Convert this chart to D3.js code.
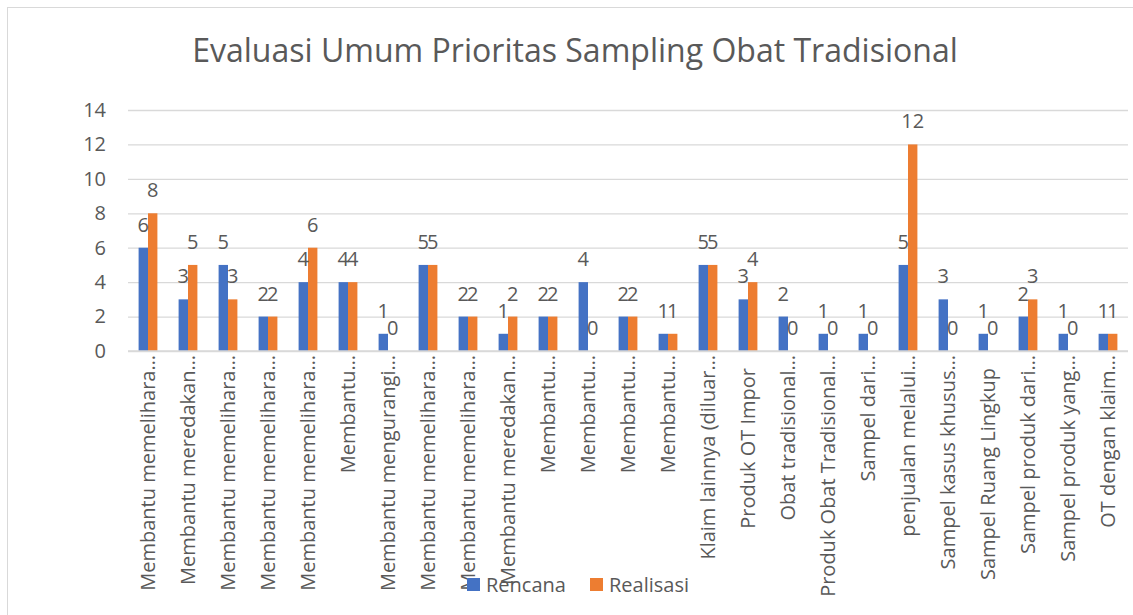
<!DOCTYPE html>
<html>
<head>
<meta charset="utf-8">
<script src="https://cdn.jsdelivr.net/npm/d3@7"></script>
<style>
  body { margin: 0; background: #fff; }
  svg text { font-family: "Open Sans", Lato, sans-serif; fill: #595959; }
</style>
</head>
<body>
<svg id="chart" width="1133" height="615"></svg>
<script>
// categories as shown (already cut off in the original)
var categories = [
  "Membantu memelihara…", "Membantu meredakan…", "Membantu memelihara…", "Membantu memelihara…",
  "Membantu memelihara…", "Membantu…", "Membantu mengurangi…", "Membantu memelihara…",
  "Membantu memelihara…", "Membantu meredakan…", "Membantu…", "Membantu…",
  "Membantu…", "Membantu…", "Klaim lainnya (diluar…", "Produk OT Impor",
  "Obat tradisional…", "Produk Obat Tradisional…", "Sampel dari…", "penjualan melalui…",
  "Sampel kasus khusus…", "Sampel Ruang Lingkup", "Sampel produk dari…", "Sampel produk yang…",
  "OT dengan klaim…"
]
var rencana   = [6, 3, 5, 2, 4, 4, 1, 5, 2, 1, 2, 4, 2, 1, 5, 3, 2, 1, 1, 5, 3, 1, 2, 1, 1]
var realisasi = [8, 5, 3, 2, 6, 4, 0, 5, 2, 2, 2, 0, 2, 1, 5, 4, 0, 0, 0, 12, 0, 0, 3, 0, 1]
var seriesNames = ["Rencana", "Realisasi"]
var yTicks = [0, 2, 4, 6, 8, 10, 12, 14]
var colors = ["#4472C4", "#ED7D31"]

var dims = { left: 128, right: 1128, top: 110, bottom: 351 }

var svg = d3.select("#chart")

// outer frame
svg.append("rect")
    .attr("x", 7.5).attr("y", 7.5)
    .attr("width", 1140).attr("height", 620)
    .attr("fill", "none").attr("stroke", "#d9d9d9")

var title = svg.append("text")
    .attr("x", 575).attr("y", 62)
    .attr("text-anchor", "middle")
    .style("font-size", "31px")
    .text("Evaluasi Umum Prioritas Sampling Obat Tradisional")
// fit title to the width seen in the original
var tw = title.node().getComputedTextLength()
title.style("font-size", (31 * 766 / tw) + "px")

var xScale = d3.scaleBand()
    .domain(d3.range(categories.length))
    .range([dims.left, dims.right])
    .paddingInner(0.53)
    .paddingOuter(0.265)

var xSub = d3.scaleBand()
    .domain(seriesNames)
    .range([0, xScale.bandwidth()])

var yScale = d3.scaleLinear()
    .domain([0, 14])
    .range([dims.bottom, dims.top])

// gridlines + y labels
var yAxis = svg.append("g")
    .attr("transform", "translate(" + dims.left + ",0)")
    .call(d3.axisLeft(yScale).tickValues(yTicks).tickSize(-(dims.right - dims.left)).tickPadding(22))
yAxis.select(".domain").remove()
yAxis.selectAll("line").attr("stroke", "#d9d9d9").attr("stroke-width", 1.3)
yAxis.selectAll("text")
    .style("font-size", "20px")
    .attr("fill", "#595959")

var data = categories.map(function (c, i) {
  return { i: i, values: [
    { key: "Rencana", v: rencana[i] },
    { key: "Realisasi", v: realisasi[i] }
  ] }
})

var groups = svg.selectAll(".grp")
    .data(data)
    .enter()
    .append("g")
    .attr("class", "grp")
    .attr("transform", d => "translate(" + xScale(d.i) + ",0)")

groups.selectAll("rect")
    .data(d => d.values)
    .enter()
    .append("rect")
    .attr("x", d => xSub(d.key))
    .attr("y", d => yScale(d.v))
    .attr("width", xSub.bandwidth())
    .attr("height", d => yScale(0) - yScale(d.v))
    .attr("fill", (d, j) => colors[j])

groups.selectAll("text")
    .data(d => d.values)
    .enter()
    .append("text")
    .attr("x", d => xSub(d.key) + xSub.bandwidth() / 2)
    .attr("y", d => yScale(d.v) - 16)
    .attr("text-anchor", "middle")
    .style("font-size", "20px")
    .text(d => d.v)

// x axis line
svg.append("line")
    .attr("x1", dims.left).attr("x2", dims.right)
    .attr("y1", yScale(0)).attr("y2", yScale(0))
    .attr("stroke", "#d9d9d9").attr("stroke-width", 1.3)

// rotated category labels
svg.selectAll(".xlab")
    .data(categories)
    .enter()
    .append("text")
    .attr("class", "xlab")
    .attr("transform", (d, i) => {
      var top = d.slice(-1) == "…" ? 355 : 368
      return "translate(" + (xScale(i) + xScale.bandwidth() / 2 + 7) + "," + top + ") rotate(-90)"
    })
    .attr("text-anchor", "end")
    .style("font-size", "20px")
    .text(d => d)

// legend
var legend = svg.append("g").attr("transform", "translate(467,578)")
var items = legend.selectAll("g")
    .data(seriesNames)
    .enter()
    .append("g")
    .attr("transform", (d, i) => "translate(" + (i * 123) + ",0)")
items.append("rect")
    .attr("width", 13).attr("height", 13)
    .attr("fill", (d, i) => colors[i])
items.append("text")
    .attr("x", 19).attr("y", 14)
    .style("font-size", "20px")
    .text(d => d)
</script>
</body>
</html>
